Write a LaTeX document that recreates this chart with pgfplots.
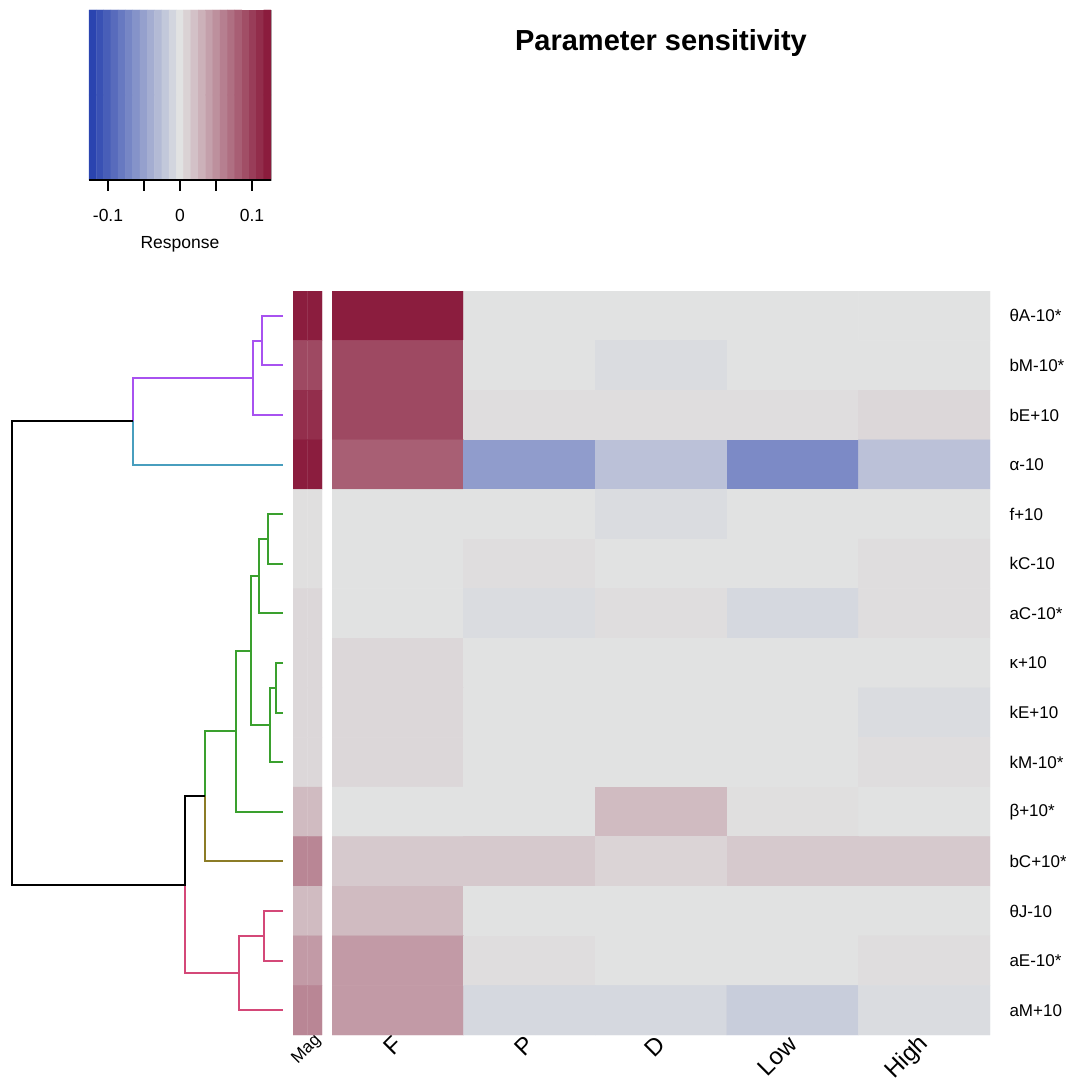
\documentclass[border=0pt]{standalone}
\usepackage{pgfplots}
\pgfplotsset{compat=1.18}
\usepackage{fontspec}
\setmainfont{Liberation Sans}
\definecolor{cpurple}{RGB}{168,82,240}
\definecolor{cteal}{RGB}{72,158,190}
\definecolor{cgreen}{RGB}{58,160,46}
\definecolor{colive}{RGB}{140,124,38}
\definecolor{cpink}{RGB}{212,72,120}
\pgfplotsset{
  colormap={rb}{rgb255=(42,68,176) rgb255=(225,226,226) rgb255=(139,28,61)},
}
\begin{document}
\begin{tikzpicture}
\path[use as bounding box] (0pt,0pt) rectangle (1065pt,1081pt);

% ---------------- colour key ----------------
\begin{axis}[at={(89pt,901pt)}, anchor=south west, scale only axis,
  width=182pt, height=170pt,
  xmin=-0.1264, xmax=0.1264, ymin=-0.5, ymax=1.5,
  colormap name=rb, point meta min=-0.1264, point meta max=0.1264,
  axis line style={draw=gray!60, line width=0.6pt},
  xtick={-0.1,-0.05,0,0.05,0.1}, xticklabels={-0.1,,0,,0.1},
  xtick pos=left, ytick=\empty,
  tick align=outside, major tick length=11pt,
  tick style={black, line width=1.6pt},
  xticklabel style={font=\fontsize{17.5}{20}\selectfont, yshift=-15pt},
  xlabel={Response}, xlabel style={font=\fontsize{17.5}{20}\selectfont, yshift=-8pt},
  clip=false]
\addplot[matrix plot*, mesh/cols=25, point meta=explicit] table[meta=c] {
x y c
-0.12134 0 -0.12640
-0.11123 0 -0.11587
-0.10112 0 -0.10533
-0.09101 0 -0.09480
-0.08090 0 -0.08427
-0.07078 0 -0.07373
-0.06067 0 -0.06320
-0.05056 0 -0.05267
-0.04045 0 -0.04213
-0.03034 0 -0.03160
-0.02022 0 -0.02107
-0.01011 0 -0.01053
0 0 0
0.01011 0 0.01053
0.02022 0 0.02107
0.03034 0 0.03160
0.04045 0 0.04213
0.05056 0 0.05267
0.06067 0 0.06320
0.07078 0 0.07373
0.08090 0 0.08427
0.09101 0 0.09480
0.10112 0 0.10533
0.11123 0 0.11587
0.12134 0 0.12640
-0.12134 1 -0.12640
-0.11123 1 -0.11587
-0.10112 1 -0.10533
-0.09101 1 -0.09480
-0.08090 1 -0.08427
-0.07078 1 -0.07373
-0.06067 1 -0.06320
-0.05056 1 -0.05267
-0.04045 1 -0.04213
-0.03034 1 -0.03160
-0.02022 1 -0.02107
-0.01011 1 -0.01053
0 1 0
0.01011 1 0.01053
0.02022 1 0.02107
0.03034 1 0.03160
0.04045 1 0.04213
0.05056 1 0.05267
0.06067 1 0.06320
0.07078 1 0.07373
0.08090 1 0.08427
0.09101 1 0.09480
0.10112 1 0.10533
0.11123 1 0.11587
0.12134 1 0.12640
};
\draw[black, line width=1.6pt] (rel axis cs:0,0) -- (rel axis cs:1,0);
\end{axis}

% ---------------- dendrogram ----------------
\begin{axis}[at={(0pt,46pt)}, anchor=south west, scale only axis,
  width=283pt, height=744pt, hide axis, clip=false,
  xmin=0, xmax=283, ymin=0.5, ymax=15.5, y dir=reverse]
\addplot[cpurple, line width=2pt, mark=none] coordinates {(283,1) (261.7,1) (261.7,2) (283,2)};
\addplot[cpurple, line width=2pt, mark=none] coordinates {(261.7,1.5) (252.7,1.5) (252.7,3) (283,3)};
\addplot[cpurple, line width=2pt, mark=none] coordinates {(252.7,2.25) (132.7,2.25) (132.7,3.125)};
\addplot[cteal, line width=2pt, mark=none] coordinates {(132.7,3.125) (132.7,4) (283,4)};
\addplot[cgreen, line width=2pt, mark=none] coordinates {(283,5) (268.3,5) (268.3,6) (283,6)};
\addplot[cgreen, line width=2pt, mark=none] coordinates {(268.3,5.5) (259.3,5.5) (259.3,7) (283,7)};
\addplot[cgreen, line width=2pt, mark=none] coordinates {(283,8) (276.3,8) (276.3,9) (283,9)};
\addplot[cgreen, line width=2pt, mark=none] coordinates {(276.3,8.5) (270.3,8.5) (270.3,10) (283,10)};
\addplot[cgreen, line width=2pt, mark=none] coordinates {(259.3,6.25) (250.7,6.25) (250.7,9.25) (270.3,9.25)};
\addplot[cgreen, line width=2pt, mark=none] coordinates {(250.7,7.75) (236.3,7.75) (236.3,11) (283,11)};
\addplot[cgreen, line width=2pt, mark=none] coordinates {(236.3,9.375) (204.7,9.375) (204.7,10.6875)};
\addplot[colive, line width=2pt, mark=none] coordinates {(204.7,10.6875) (204.7,12) (283,12)};
\addplot[cpink, line width=2pt, mark=none] coordinates {(283,13) (263.7,13) (263.7,14) (283,14)};
\addplot[cpink, line width=2pt, mark=none] coordinates {(263.7,13.5) (239,13.5) (239,15) (283,15)};
\addplot[cpink, line width=2pt, mark=none] coordinates {(185,12.46875) (185,14.25) (239,14.25)};
\addplot[black, line width=2pt, mark=none] coordinates {(132.7,3.125) (12.3,3.125) (12.3,12.46875) (185,12.46875) (185,10.6875) (204.7,10.6875)};
\end{axis}

% ---------------- magnitude column ----------------
\begin{axis}[at={(293pt,46pt)}, anchor=south west, scale only axis,
  width=29pt, height=744pt,
  xmin=-0.5, xmax=1.5, ymin=0.5, ymax=15.5, y dir=reverse,
  colormap name=rb, point meta min=-0.1264, point meta max=0.1264,
  axis line style={draw=none}, major tick length=0pt,
  xtick={0.5}, xticklabels={Mag}, ytick=\empty,
  xticklabel style={rotate=45, anchor=east, font=\fontsize{17}{19}\selectfont, xshift=9pt, yshift=-10pt}]
\addplot[matrix plot*, mesh/cols=2, point meta=explicit] table[meta=v] {
x y v
0 1 0.126
1 1 0.126
0 2 0.098
1 2 0.098
0 3 0.115
1 3 0.115
0 4 0.126
1 4 0.126
0 5 0.002
1 5 0.002
0 6 0.002
1 6 0.002
0 7 0.007
1 7 0.007
0 8 0.007
1 8 0.007
0 9 0.007
1 9 0.007
0 10 0.007
1 10 0.007
0 11 0.025
1 11 0.025
0 12 0.059
1 12 0.059
0 13 0.025
1 13 0.025
0 14 0.046
1 14 0.046
0 15 0.059
1 15 0.059
};
\end{axis}

% ---------------- heatmap ----------------
\begin{axis}[at={(332pt,46pt)}, anchor=south west, scale only axis,
  width=658pt, height=744pt,
  xmin=-0.5, xmax=4.5, ymin=0.5, ymax=15.5, y dir=reverse,
  colormap name=rb, point meta min=-0.1264, point meta max=0.1264,
  axis line style={draw=none}, major tick length=0pt,
  xtick={0,1,2,3,4}, xticklabels={F,P,D,Low,High},
  xticklabel style={rotate=45, anchor=east, font=\fontsize{24}{28}\selectfont, xshift=0pt, yshift=-4pt},
  ytick={1,...,15},
  yticklabels={θA-10*,bM-10*,bE+10,α-10,f+10,kC-10,aC-10*,κ+10,kE+10,kM-10*,β+10*,bC+10*,θJ-10,aE-10*,aM+10},
  yticklabel pos=right,
  yticklabel style={font=\fontsize{17}{20}\selectfont, anchor=west, xshift=16pt},
  title={Parameter sensitivity},
  title style={at={(0.5,1.3253)}, anchor=center, font=\fontsize{29}{33}\selectfont\bfseries}]
\addplot[matrix plot*, mesh/cols=5, point meta=explicit] table[meta=v] {
x y v
0 1 0.126
1 1 0
2 1 0
3 1 0
4 1 0
0 2 0.098
1 2 0
2 2 -0.005
3 2 0
4 2 0
0 3 0.098
1 3 0.003
2 3 0.003
3 3 0.003
4 3 0.007
0 4 0.084
1 4 -0.056
2 4 -0.026
3 4 -0.070
4 4 -0.026
0 5 0
1 5 0
2 5 -0.005
3 5 0
4 5 0
0 6 0
1 6 0.003
2 6 0
3 6 0
4 6 0.003
0 7 0
1 7 -0.005
2 7 0.003
3 7 -0.008
4 7 0.003
0 8 0.007
1 8 0
2 8 0
3 8 0
4 8 0
0 9 0.007
1 9 0
2 9 0
3 9 0
4 9 -0.005
0 10 0.007
1 10 0
2 10 0
3 10 0
4 10 0.003
0 11 0
1 11 0
2 11 0.025
3 11 0.002
4 11 0
0 12 0.016
1 12 0.016
2 12 0.009
3 12 0.016
4 12 0.016
0 13 0.025
1 13 0
2 13 0
3 13 0
4 13 0
0 14 0.046
1 14 0.003
2 14 0
3 14 0
4 14 0.003
0 15 0.046
1 15 -0.008
2 15 -0.008
3 15 -0.017
4 15 -0.005
};
\end{axis}
\end{tikzpicture}
\end{document}
